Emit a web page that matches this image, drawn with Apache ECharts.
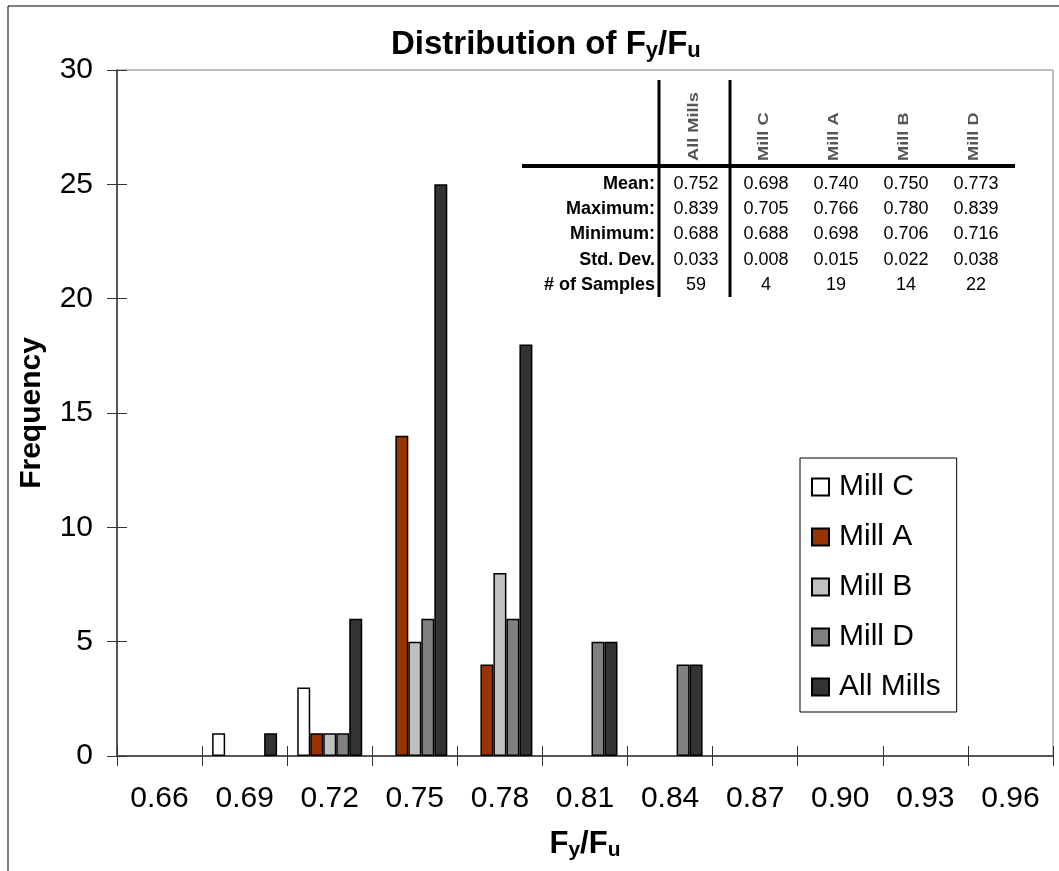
<!DOCTYPE html>
<html>
<head>
<meta charset="utf-8">
<script src="https://cdn.jsdelivr.net/npm/echarts@6/dist/echarts.min.js"></script>
<style>
  html, body { margin: 0; padding: 0; background: #fff; }
  #main { width: 1059px; height: 871px; }
</style>
</head>
<body>
<div id="main"></div>
<script>
var FONT = '"Liberation Sans", Arial, sans-serif';

// histogram bins (Fy/Fu)
var categories = ['0.66', '0.69', '0.72', '0.75', '0.78', '0.81', '0.84', '0.87', '0.90', '0.93', '0.96'];
var millC    = [0, 1, 3, 0, 0, 0, 0, 0, 0, 0, 0];
var millA    = [0, 0, 1, 14, 4, 0, 0, 0, 0, 0, 0];
var millB    = [0, 0, 1, 5, 8, 0, 0, 0, 0, 0, 0];
var millD    = [0, 0, 1, 6, 6, 5, 4, 0, 0, 0, 0];
var allMills = [0, 1, 6, 25, 18, 5, 4, 0, 0, 0, 0];

// summary table
var tableCols = ['All Mills', 'Mill C', 'Mill A', 'Mill B', 'Mill D'];
var rowLabels = ['Mean:', 'Maximum:', 'Minimum:', 'Std. Dev.', '# of Samples'];
var meanRow    = ['0.752', '0.698', '0.740', '0.750', '0.773'];
var maxRow     = ['0.839', '0.705', '0.766', '0.780', '0.839'];
var minRow     = ['0.688', '0.688', '0.698', '0.706', '0.716'];
var stdRow     = ['0.033', '0.008', '0.015', '0.022', '0.038'];
var samplesRow = ['59', '4', '19', '14', '22'];

var myChart = echarts.init(document.getElementById('main'));

function richSub(big, small) {
    return {
        b: { fontSize: big, fontWeight: 'bold', fontFamily: FONT, color: '#000' },
        s: { fontSize: small, fontWeight: 'bold', fontFamily: FONT, color: '#000', padding: [Math.round(big * 0.4), 0, 0, 0] }
    };
}

function bar(name, data, color) {
    return {
        name: name,
        type: 'bar',
        xAxisIndex: 0,
        yAxisIndex: 0,
        barWidth: 13,
        barGap: '0%',
        // empty bins are not drawn
        data: data.map(function (v) { return v === 0 ? null : v; }),
        itemStyle: { color: color, borderColor: '#000', borderWidth: 1.5 }
    };
}

// table graphics
var colX = [696, 766, 836, 906, 976];
var rowY = [184, 209, 234, 260, 285];
var rows = [meanRow, maxRow, minRow, stdRow, samplesRow];
var gfx = [
    { type: 'rect', shape: { x: 8, y: 6, width: 1200, height: 1000 },
      style: { fill: 'none', stroke: '#000', lineWidth: 1 } },
    { type: 'line', shape: { x1: 522, y1: 166, x2: 1015, y2: 166 }, style: { stroke: '#000', lineWidth: 4 } },
    { type: 'line', shape: { x1: 659, y1: 80, x2: 659, y2: 297 }, style: { stroke: '#000', lineWidth: 3 } },
    { type: 'line', shape: { x1: 730, y1: 80, x2: 730, y2: 297 }, style: { stroke: '#000', lineWidth: 3 } }
];
tableCols.forEach(function (c, j) {
    gfx.push({
        type: 'text', x: colX[j] - 2, y: 161, rotation: Math.PI / 2, scaleX: 1.3,
        style: { text: c, x: 0, y: 0, align: 'left', verticalAlign: 'middle',
                 font: 'bold 14px ' + FONT, fill: '#555' }
    });
});
rowLabels.forEach(function (lab, i) {
    gfx.push({
        type: 'text',
        style: { text: lab, x: 655, y: rowY[i], align: 'right', verticalAlign: 'middle',
                 font: 'bold 18px ' + FONT, fill: '#000' }
    });
    rows[i].forEach(function (v, j) {
        gfx.push({
            type: 'text',
            style: { text: v, x: colX[j], y: rowY[i], align: 'center', verticalAlign: 'middle',
                     font: '18px ' + FONT, fill: '#000' }
        });
    });
});

var option = {
    backgroundColor: '#fff',
    animation: false,
    title: {
        text: '{b|Distribution of F}{s|y}{b|/F}{s|u}',
        left: 386,
        top: 22,
        textStyle: { rich: richSub(33, 22) }
    },
    legend: {
        orient: 'vertical',
        left: 800,
        top: 458,
        padding: [14, 16, 10, 11],
        borderColor: '#000',
        borderWidth: 1,
        itemWidth: 17,
        itemHeight: 17,
        itemGap: 20,
        icon: 'rect',
        textStyle: { fontSize: 30, fontFamily: FONT, color: '#000', lineHeight: 30, padding: [0, 0, 0, 5] },
        data: ['Mill C', 'Mill A', 'Mill B', 'Mill D', 'All Mills']
    },
    grid: {
        left: 117, right: 6, top: 70, bottom: 115,
        show: true, borderColor: '#808080', borderWidth: 1
    },
    xAxis: [{
        type: 'category',
        data: categories,
        name: '{b|F}{s|y}{b|/F}{s|u}',
        nameLocation: 'middle',
        nameGap: 72,
        nameTextStyle: { rich: richSub(31, 21) },
        axisLine: { lineStyle: { color: '#333', width: 1.5 } },
        axisTick: { show: false },
        axisLabel: { fontSize: 30, fontFamily: FONT, color: '#000', margin: 28 }
    }, {
        // crossing ticks: shifted axis with long ticks
        type: 'category',
        data: categories,
        position: 'bottom',
        offset: -10,
        axisLine: { show: false },
        axisTick: { show: true, length: 20, lineStyle: { color: '#333' } },
        axisLabel: { show: false }
    }],
    yAxis: [{
        type: 'value',
        min: 0, max: 30, interval: 5,
        name: 'Frequency',
        nameLocation: 'middle',
        nameGap: 70,
        nameTextStyle: { fontSize: 30, fontWeight: 'bold', fontFamily: FONT, color: '#000' },
        splitLine: { show: false },
        axisLine: { show: true, lineStyle: { color: '#333', width: 1.5 } },
        axisTick: { show: false },
        axisLabel: { fontSize: 30, fontFamily: FONT, color: '#000', margin: 24 }
    }, {
        type: 'value',
        min: 0, max: 30, interval: 5,
        position: 'left',
        offset: -10,
        splitLine: { show: false },
        axisLine: { show: false },
        axisTick: { show: true, length: 20, lineStyle: { color: '#333' } },
        axisLabel: { show: false }
    }],
    series: [
        bar('Mill C', millC, '#ffffff'),
        bar('Mill A', millA, '#993300'),
        bar('Mill B', millB, '#c0c0c0'),
        bar('Mill D', millD, '#808080'),
        bar('All Mills', allMills, '#333333')
    ],
    graphic: gfx
};

myChart.setOption(option);
</script>
</body>
</html>
